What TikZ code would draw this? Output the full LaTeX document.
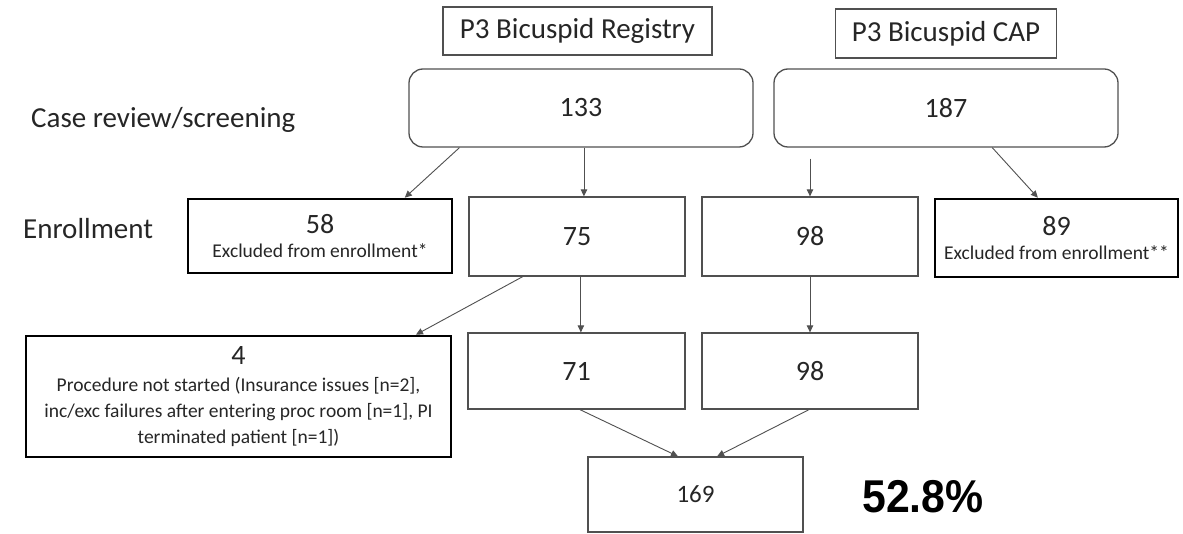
\documentclass[tikz,border=0pt]{standalone}
\usepackage{fontspec}
\setmainfont{Carlito}
\newfontfamily\boldsans[FakeStretch=0.93]{Liberation Sans}
\usetikzlibrary{arrows.meta,calc}
\definecolor{txt}{HTML}{262626}
\definecolor{ln}{HTML}{505050}
\tikzset{
  thinbox/.style={draw=ln, line width=1.3pt, text=txt, inner sep=0pt, align=center},
  thickbox/.style={draw=black, line width=2.6pt, text=txt, inner sep=0pt, align=center},
  roundbox/.style={thinbox, rounded corners=14pt},
  arr/.style={draw=ln, line width=0.9pt, -{Triangle[width=6.5pt,length=7pt]}},
  lbl/.style={text=txt, inner sep=0pt, anchor=west},
  bignum/.style={font=\fontsize{28}{30}\selectfont},
  smalltxt/.style={font=\fontsize{19.5}{26}\selectfont}
}
\begin{document}
\begin{tikzpicture}[x=1pt,y=-1pt]
\useasboundingbox[fill=white] (0,0) rectangle (1183,534);
% titles
\node[thinbox, minimum width=269pt, minimum height=48pt, font=\fontsize{29}{32}\selectfont] (treg) at (577.5,31) {P3 Bicuspid Registry};
\node[thinbox, minimum width=221pt, minimum height=49pt, font=\fontsize{29}{32}\selectfont] (tcap) at (946,33.5) {P3 Bicuspid CAP};
% row labels
\node[lbl, font=\fontsize{29}{32}\selectfont] (lcase) at (31,120) {Case review/screening};
\node[lbl, font=\fontsize{29}{32}\selectfont] (lenr) at (23,229) {Enrollment};
% screening
\node[roundbox, minimum width=344pt, minimum height=78pt, bignum] (r133) at (581,108) {133};
\node[roundbox, minimum width=344pt, minimum height=78pt, bignum] (r187) at (946,108) {187};
% enrollment
\node[thickbox, minimum width=264pt, minimum height=74pt] (n58) at (320,236)
  {{\fontsize{28}{30}\selectfont 58}\\[9pt]{\fontsize{19.5}{22}\selectfont Excluded from enrollment*}};
\node[thinbox, minimum width=216pt, minimum height=79pt, bignum] (n75) at (577,236.5) {75};
\node[thinbox, minimum width=216pt, minimum height=79pt, bignum] (n98) at (810,236.5) {98};
\node[thickbox, minimum width=243pt, minimum height=78pt] (n89) at (1056.5,238)
  {{\fontsize{28}{30}\selectfont 89}\\[9pt]{\fontsize{19.5}{22}\selectfont Excluded from enrollment**}};
% procedure
\node[thickbox, minimum width=425pt, minimum height=121pt, smalltxt] (n4) at (238.5,396.5)
  {{\fontsize{28}{30}\selectfont 4}\\[1pt]Procedure not started (Insurance issues [n=2],\\inc/exc failures after entering proc room [n=1], PI\\terminated patient [n=1])};
\node[thinbox, minimum width=217pt, minimum height=76pt, bignum] (n71) at (576.5,371) {71};
\node[thinbox, minimum width=216pt, minimum height=76pt, bignum] (n98b) at (810,371) {98};
% total
\node[thinbox, minimum width=215pt, minimum height=75pt, font=\fontsize{25}{28}\selectfont] (n169) at (695.5,494.5) {169};
\node[inner sep=0pt, text=black, font=\boldsans\bfseries\fontsize{46}{50}\selectfont] (pct) at (923,497) {52.8\%};
% arrows
\draw[arr] ($(r133.south west)!0.148!(r133.south east)$) -- ($(n58.north west)!0.818!(n58.north east)$);
\coordinate (a75) at ($(n75.north west)!0.532!(n75.north east)$);
\draw[arr] (r133.south -| a75) -- (a75);
\draw[arr] ([yshift=-11pt]r187.south -| n98.north) -- (n98.north);
\draw[arr] ($(r187.south west)!0.634!(r187.south east)$) -- ($(n89.north west)!0.424!(n89.north east)$);
\draw[arr] ($(n75.south west)!0.25!(n75.south east)$) -- ($(n4.north west)!0.915!(n4.north east)$);
\coordinate (a71) at ($(n71.north west)!0.52!(n71.north east)$);
\draw[arr] (n75.south -| a71) -- (a71);
\draw[arr] (n98.south) -- (n98b.north);
\draw[arr] ($(n71.south west)!0.516!(n71.south east)$) -- ($(n169.north west)!0.419!(n169.north east)$);
\draw[arr] ($(n98b.south west)!0.495!(n98b.south east)$) -- ($(n169.north west)!0.6!(n169.north east)$);
\end{tikzpicture}
\end{document}
